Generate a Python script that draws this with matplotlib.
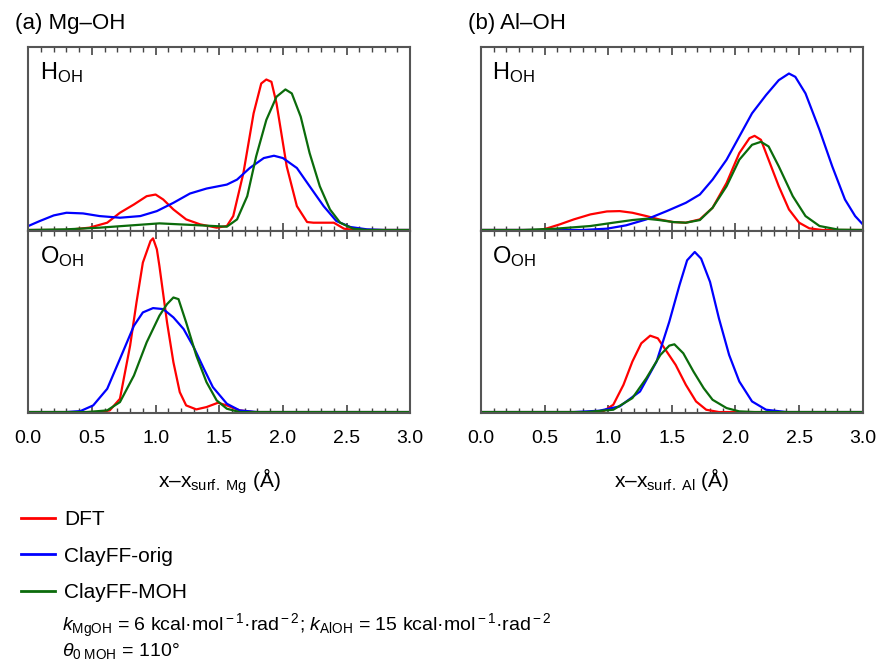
import matplotlib.pyplot as plt
from matplotlib.lines import Line2D
from matplotlib.ticker import MultipleLocator

plt.rcParams['font.family'] = ['Liberation Sans Narrow', 'Liberation Sans', 'DejaVu Sans']
plt.rcParams['mathtext.fontset'] = 'custom'
plt.rcParams['mathtext.rm'] = 'Liberation Sans'
plt.rcParams['mathtext.it'] = 'Liberation Sans:italic'

# (a) Mg-OH, H_OH
mg_h_dft_x = [0.0, 0.30, 0.48, 0.62, 0.72, 0.83, 0.93, 1.00, 1.06, 1.14, 1.24, 1.35, 1.48, 1.56, 1.61,
              1.69, 1.77, 1.83, 1.87, 1.91, 1.95, 2.03, 2.11, 2.19, 2.24, 2.40, 2.48, 2.56, 3.0]
mg_h_dft_y = [0, 0, 7, 22, 52, 77, 102, 107, 92, 62, 32, 17, 7, 12, 42,
              172, 352, 442, 454, 447, 382, 192, 72, 24, 22, 22, 4, 0, 0]
mg_h_orig_x = [0.0, 0.09, 0.20, 0.30, 0.43, 0.56, 0.72, 0.88, 1.01, 1.14, 1.27, 1.40, 1.56, 1.64, 1.74,
               1.85, 1.93, 2.00, 2.11, 2.21, 2.32, 2.42, 2.53, 2.66, 2.80, 3.0]
mg_h_orig_y = [12, 27, 44, 52, 50, 42, 37, 42, 57, 82, 110, 125, 137, 152, 187,
               217, 224, 217, 187, 132, 72, 27, 9, 2, 0, 0]
mg_h_moh_x = [0.0, 0.30, 0.56, 1.03, 1.35, 1.56, 1.64, 1.72, 1.79, 1.87, 1.95, 2.02, 2.07, 2.14,
              2.21, 2.29, 2.37, 2.45, 2.55, 2.66, 3.0]
mg_h_moh_y = [0, 2, 7, 20, 14, 10, 32, 102, 222, 332, 402, 424, 412, 342,
              232, 132, 62, 22, 4, 0, 0]

# (a) Mg-OH, O_OH
mg_o_dft_x = [0.0, 0.56, 0.64, 0.72, 0.80, 0.85, 0.90, 0.96, 0.98, 1.01, 1.03, 1.09, 1.14, 1.19, 1.24,
              1.32, 1.40, 1.49, 1.56, 1.66, 1.77, 3.0]
mg_o_dft_y = [0, 0, 5, 40, 200, 330, 450, 515, 523, 490, 440, 270, 150, 60, 20,
              8, 15, 28, 20, 5, 0, 0]
mg_o_orig_x = [0.0, 0.30, 0.41, 0.51, 0.62, 0.72, 0.83, 0.90, 0.98, 1.06, 1.14, 1.22, 1.30, 1.38,
               1.45, 1.56, 1.66, 1.80, 3.0]
mg_o_orig_y = [0, 0, 3, 20, 70, 160, 260, 300, 313, 310, 285, 250, 195, 130,
               75, 25, 5, 0, 0]
mg_o_moh_x = [0.0, 0.46, 0.62, 0.72, 0.83, 0.93, 1.03, 1.09, 1.14, 1.18, 1.24, 1.32, 1.40, 1.48,
              1.56, 1.66, 3.0]
mg_o_moh_y = [0, 0, 5, 30, 110, 210, 290, 325, 345, 340, 270, 170, 90, 35,
              10, 0, 0]

# (b) Al-OH, H_OH
al_h_dft_x = [0.0, 0.46, 0.52, 0.62, 0.73, 0.86, 0.99, 1.09, 1.19, 1.30, 1.40, 1.51, 1.61, 1.72,
              1.82, 1.93, 2.03, 2.11, 2.15, 2.20, 2.26, 2.34, 2.42, 2.50, 2.58, 2.68, 3.0]
al_h_dft_y = [0, 0, 5, 17, 32, 47, 56, 57, 52, 42, 32, 24, 22, 32,
              67, 142, 232, 277, 284, 272, 212, 132, 62, 22, 5, 0, 0]
al_h_orig_x = [0.0, 0.80, 0.99, 1.14, 1.30, 1.46, 1.61, 1.72, 1.82, 1.93, 2.03, 2.13, 2.24, 2.34,
               2.42, 2.47, 2.55, 2.66, 2.76, 2.86, 2.94, 3.0]
al_h_orig_y = [0, 0, 4, 14, 32, 57, 82, 107, 152, 212, 282, 352, 407, 452,
               472, 462, 412, 302, 192, 92, 42, 17]
al_h_moh_x = [0.0, 0.33, 0.59, 0.86, 1.04, 1.19, 1.30, 1.40, 1.51, 1.61, 1.72, 1.82, 1.93, 2.03,
              2.13, 2.20, 2.26, 2.34, 2.45, 2.55, 2.66, 2.81, 3.0]
al_h_moh_y = [0, 0, 4, 12, 22, 30, 34, 30, 24, 22, 30, 67, 132, 212,
              257, 266, 252, 192, 102, 42, 12, 1, 0]

# (b) Al-OH, O_OH
al_o_dft_x = [0.0, 0.93, 0.96, 1.04, 1.12, 1.19, 1.26, 1.33, 1.39, 1.46, 1.53, 1.61, 1.69, 1.77,
              1.87, 3.0]
al_o_dft_y = [0, 0, 2, 22, 82, 152, 207, 230, 222, 182, 142, 82, 32, 7,
              0, 0]
al_o_orig_x = [0.0, 0.73, 0.93, 1.09, 1.25, 1.38, 1.48, 1.56, 1.62, 1.68, 1.73, 1.80, 1.87, 1.95,
               2.03, 2.13, 2.24, 2.40, 3.0]
al_o_orig_y = [0, 0, 4, 17, 62, 152, 272, 382, 457, 482, 462, 392, 282, 172,
               92, 32, 7, 0, 0]
al_o_moh_x = [0.0, 0.83, 1.04, 1.19, 1.30, 1.41, 1.48, 1.52, 1.59, 1.67, 1.75, 1.82, 1.93, 2.03,
              2.15, 3.0]
al_o_moh_y = [0, 0, 7, 42, 102, 172, 200, 204, 177, 122, 72, 37, 12, 2,
              0, 0]

c_dft = '#ff0000'
c_orig = '#0000ff'
c_moh = '#0b6b0b'
lw = 1.6

fig = plt.figure(figsize=(8.84, 6.63), dpi=100)

def setup(ax, top_lim, show_labels):
    ax.set_xlim(0, 3.0)
    ax.set_ylim(-3, top_lim)
    ax.xaxis.set_major_locator(MultipleLocator(0.5))
    ax.xaxis.set_minor_locator(MultipleLocator(0.1))
    ax.tick_params(axis='x', which='both', direction='in', top=True, bottom=True,
                   labelbottom=show_labels, labelsize=14, color='#444444')
    ax.tick_params(axis='x', which='major', length=6, width=1.2, pad=12)
    ax.tick_params(axis='x', which='minor', length=3.5, width=1.0)
    ax.set_yticks([])
    for s in ax.spines.values():
        s.set_linewidth(1.5)
        s.set_color('#555555')
    if show_labels:
        for lab in ax.get_xticklabels():
            lab.set_family(['Liberation Sans', 'DejaVu Sans'])

panels = [
    (0.032, 'Mg', (mg_h_dft_x, mg_h_dft_y, mg_h_orig_x, mg_h_orig_y, mg_h_moh_x, mg_h_moh_y),
     (mg_o_dft_x, mg_o_dft_y, mg_o_orig_x, mg_o_orig_y, mg_o_moh_x, mg_o_moh_y), '(a) Mg\u2013OH'),
    (0.544, 'Al', (al_h_dft_x, al_h_dft_y, al_h_orig_x, al_h_orig_y, al_h_moh_x, al_h_moh_y),
     (al_o_dft_x, al_o_dft_y, al_o_orig_x, al_o_orig_y, al_o_moh_x, al_o_moh_y), '(b) Al\u2013OH'),
]

for left, metal, hdat, odat, title in panels:
    ax_top = fig.add_axes([left, 0.6516, 0.432, 0.2775])
    ax_bot = fig.add_axes([left, 0.377, 0.432, 0.2745])
    for ax, dat in [(ax_top, hdat), (ax_bot, odat)]:
        ax.plot(dat[0], dat[1], color=c_dft, lw=lw)
        ax.plot(dat[2], dat[3], color=c_orig, lw=lw)
        ax.plot(dat[4], dat[5], color=c_moh, lw=lw)
    setup(ax_top, 552, False)
    setup(ax_bot, 545, True)
    ax_top.text(0.03, 0.93, 'H$_{\\rm OH}$', transform=ax_top.transAxes, fontsize=17,
                va='top', ha='left', family=['Liberation Sans', 'DejaVu Sans'])
    ax_bot.text(0.03, 0.93, 'O$_{\\rm OH}$', transform=ax_bot.transAxes, fontsize=17,
                va='top', ha='left', family=['Liberation Sans', 'DejaVu Sans'])
    ax_bot.set_xlabel('x\u2013x$_{\\rm surf.\\ ' + metal + '}$ (\u00c5)', fontsize=15,
                      family=['Liberation Sans', 'DejaVu Sans'], labelpad=14)
    fig.text(left - 0.015, 0.965, title, fontsize=16, ha='left', va='center')

handles = [Line2D([], [], color=c_dft, lw=2),
           Line2D([], [], color=c_orig, lw=2),
           Line2D([], [], color=c_moh, lw=2)]
fig.legend(handles, ['DFT', 'ClayFF-orig', 'ClayFF-MOH'], loc='upper left',
           bbox_to_anchor=(0.003, 0.259), frameon=False,
           handlelength=1.6, handletextpad=0.45, labelspacing=0.85,
           prop={'family': ['Liberation Sans Narrow', 'Liberation Sans', 'DejaVu Sans'], 'size': 15})

fig.text(0.07, 0.056,
         '$k_{\\rm MgOH}$ = 6 kcal\u00b7mol$^{\\rm -1}$\u00b7rad$^{\\rm -2}$; '
         '$k_{\\rm AlOH}$ = 15 kcal\u00b7mol$^{\\rm -1}$\u00b7rad$^{\\rm -2}$',
         fontsize=14, ha='left', va='center')
fig.text(0.07, 0.018, '$\\theta_{0\\ \\rm MOH}$ = 110\u00b0', fontsize=14, ha='left', va='center')

fig.savefig('out.png', dpi=100)
